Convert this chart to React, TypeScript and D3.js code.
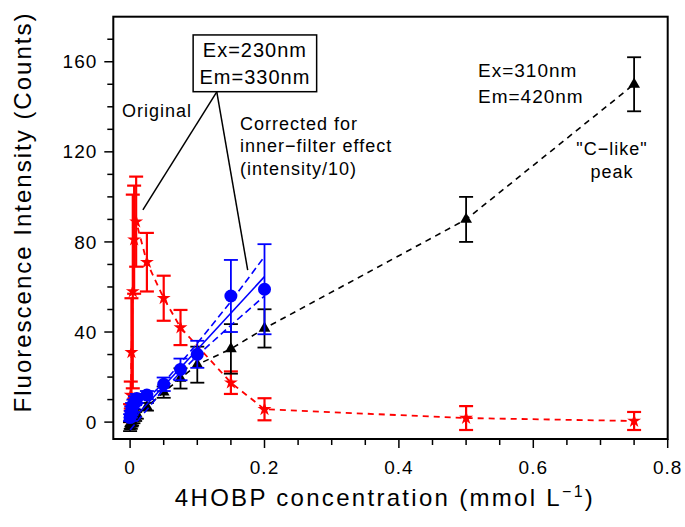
import React from 'react';
import * as d3 from 'd3';

// Original emission (red stars)
const redX = [0, 0.001, 0.002, 0.004, 0.006, 0.009, 0.025, 0.05, 0.075, 0.15, 0.2, 0.5, 0.75];
const redY = [4, 12, 31, 58, 81, 89, 71, 55, 42, 17.5, 5.7, 1.8, 0.5];
const redErr = [4, 6, 24, 43, 24, 20, 13, 10, 7.8, 5, 4.9, 5.3, 4];

// Ex=310 / Em=420, "C-like" peak (black triangles)
const blackX = [0, 0.001, 0.002, 0.003, 0.005, 0.0075, 0.01, 0.025, 0.05, 0.075, 0.1, 0.15, 0.2, 0.5, 0.75];
const blackY = [-2, -1, 0, 0.5, 1.5, 2.5, 3.5, 6.8, 13.3, 19.4, 25.5, 32.5, 41.6, 90, 150];
const blackErr = [2, 2, 2, 2, 2, 2, 2, 1.7, 2.5, 4.5, 8, 11, 8.5, 10, 12];

// Corrected for inner-filter effect (blue circles)
const blueX = [0, 0.001, 0.002, 0.003, 0.005, 0.0075, 0.01, 0.025, 0.05, 0.075, 0.1, 0.15, 0.2];
const blueY = [2, 3.5, 5, 6.5, 8, 9.5, 10.5, 12, 16.8, 23.4, 30.1, 56, 59];
const blueErr = [1.5, 1.5, 2, 2, 2, 2, 2, 1.8, 3, 4.8, 6, 16, 20];

// linear fit and its confidence band
const fitX = [0, 0.2];
const fitY = [-0.2, 64.6];
const bandX = [0, 0.05, 0.1, 0.15, 0.2];
const bandUpper = [3, 17.5, 35, 53.5, 73.5];
const bandLower = [-3.5, 14.5, 29.5, 43, 56];

const xMajor = [0, 0.2, 0.4, 0.6, 0.8];
const xMinor = [0.05, 0.1, 0.15, 0.25, 0.3, 0.35, 0.45, 0.5, 0.55, 0.65, 0.7, 0.75];
const yMajor = [0, 40, 80, 120, 160];
const yMinor = [10, 20, 30, 50, 60, 70, 90, 100, 110, 130, 140, 150, 170];

const FONT = '"Liberation Sans", Arial, Helvetica, sans-serif';

const App = () => {
	const width = 685;
	const height = 527;
	const plot = { left: 113.3, right: 667.7, top: 16.7, bottom: 439 };

	const xScale = d3.scaleLinear().domain([-0.025, 0.8]).range([plot.left, plot.right]);
	const yScale = d3.scaleLinear().domain([-7.5, 180]).range([plot.bottom, plot.top]);

	const line = d3
		.line<[number, number]>()
		.x((d) => xScale(d[0]))
		.y((d) => yScale(d[1]));

	const zip = (xs: number[], ys: number[]) => xs.map((x, i) => [x, ys[i]] as [number, number]);

	const star = d3.symbol(d3.symbolStar, 60)();
	const tri = d3.symbol(d3.symbolTriangle, 60)();

	const errorBars = (xs: number[], ys: number[], es: number[], color: string, key: string, sw = 1.8) =>
		xs.map((x, i) => {
			const cx = xScale(x);
			const y1 = yScale(ys[i] + es[i]);
			const y2 = yScale(ys[i] - es[i]);
			return (
				<g key={key + i} stroke={color} strokeWidth={sw}>
					<line x1={cx} x2={cx} y1={y1} y2={y2} />
					<line x1={cx - 7} x2={cx + 7} y1={y1} y2={y1} />
					<line x1={cx - 7} x2={cx + 7} y1={y2} y2={y2} />
				</g>
			);
		});

	const textStyle = { fontFamily: FONT, letterSpacing: '1px' };

	// annotation anchors (data units)
	const boxTip = [0.129, 146.6];
	const origTip = [0.019, 94.2];
	const corrTip = [0.175, 67.5];

	return (
		<svg width={width} height={height} style={{ position: 'absolute', left: 0, top: 0, background: '#fff' }}>
			{/* --- RED: original --- */}
			<path d={line(zip(redX, redY)) || ''} fill='none' stroke='#ff0000' strokeWidth={1.8} strokeDasharray='6,5' />
			{errorBars(redX, redY, redErr, '#ff0000', 'r', 2.2)}
			{redX.map((x, i) => (
				<path key={'rs' + i} d={star || ''} transform={`translate(${xScale(x)},${yScale(redY[i])})`} fill='#ff0000' />
			))}

			{/* --- BLACK: C-like peak --- */}
			<path d={line(zip(blackX, blackY)) || ''} fill='none' stroke='#000' strokeWidth={1.6} strokeDasharray='6,5' />
			{errorBars(blackX, blackY, blackErr, '#000', 'b')}
			{blackX.map((x, i) => (
				<path key={'bt' + i} d={tri || ''} transform={`translate(${xScale(x)},${yScale(blackY[i])})`} fill='#000' />
			))}

			{/* --- BLUE: corrected --- */}
			<path d={line(zip(bandX, bandUpper)) || ''} fill='none' stroke='#0000ff' strokeWidth={1.6} strokeDasharray='7,4' />
			<path d={line(zip(bandX, bandLower)) || ''} fill='none' stroke='#0000ff' strokeWidth={1.6} strokeDasharray='7,4' />
			<path d={line(zip(fitX, fitY)) || ''} fill='none' stroke='#0000ff' strokeWidth={1.6} />
			{errorBars(blueX, blueY, blueErr, '#0000ff', 'c')}
			{blueX.map((x, i) => (
				<circle key={'bc' + i} cx={xScale(x)} cy={yScale(blueY[i])} r={6.5} fill='#0000ff' />
			))}

			{/* --- FRAME & AXES --- */}
			<rect
				x={plot.left}
				y={plot.top}
				width={plot.right - plot.left}
				height={plot.bottom - plot.top}
				fill='none'
				stroke='#000'
				strokeWidth={2}
			/>
			{yMajor.map((v) => (
				<g key={'ym' + v}>
					<line x1={plot.left - 9} x2={plot.left} y1={yScale(v)} y2={yScale(v)} stroke='#000' strokeWidth={1.5} />
					<text x={plot.left - 16} y={yScale(v)} dy='0.35em' textAnchor='end' fontSize={19} style={textStyle}>
						{v}
					</text>
				</g>
			))}
			{yMinor.map((v) => (
				<line key={'yn' + v} x1={plot.left - 6} x2={plot.left} y1={yScale(v)} y2={yScale(v)} stroke='#000' strokeWidth={1.5} />
			))}
			{xMajor.map((v) => (
				<g key={'xm' + v}>
					<line x1={xScale(v)} x2={xScale(v)} y1={plot.bottom} y2={plot.bottom + 9} stroke='#000' strokeWidth={1.5} />
					<text x={xScale(v)} y={474} textAnchor='middle' fontSize={19} style={textStyle}>
						{v}
					</text>
				</g>
			))}
			{xMinor.map((v) => (
				<line key={'xn' + v} x1={xScale(v)} x2={xScale(v)} y1={plot.bottom} y2={plot.bottom + 6} stroke='#000' strokeWidth={1.5} />
			))}

			{/* axis titles */}
			<text x={385} y={506} textAnchor='middle' fontSize={24} style={{ fontFamily: FONT, letterSpacing: '2.3px' }}>
				4HOBP concentration (mmol L
				<tspan fontSize={16} dy={-9}>−1</tspan>
				<tspan dy={9}>)</tspan>
			</text>
			<text
				transform='translate(31,212) rotate(-90)'
				textAnchor='middle'
				fontSize={24}
				style={{ fontFamily: FONT, letterSpacing: '2px' }}
			>
				Fluorescence Intensity (Counts)
			</text>

			{/* --- ANNOTATIONS --- */}
			<rect
				x={xScale(0.0938)}
				y={yScale(171.9)}
				width={xScale(0.2776) - xScale(0.0938)}
				height={yScale(146.7) - yScale(171.9)}
				fill='#fff'
				stroke='#000'
				strokeWidth={1.5}
			/>
			<text x={xScale(0.1857)} y={57} textAnchor='middle' fontSize={20} style={textStyle}>
				Ex=230nm
			</text>
			<text x={xScale(0.1857)} y={84} textAnchor='middle' fontSize={20} style={textStyle}>
				Em=330nm
			</text>
			<line x1={xScale(boxTip[0])} y1={yScale(boxTip[1])} x2={xScale(origTip[0])} y2={yScale(origTip[1])} stroke='#000' strokeWidth={1.5} />
			<line x1={xScale(boxTip[0])} y1={yScale(boxTip[1])} x2={xScale(corrTip[0])} y2={yScale(corrTip[1])} stroke='#000' strokeWidth={1.5} />

			<text x={122} y={117} fontSize={18} style={textStyle}>
				Original
			</text>
			<text x={240} y={130} fontSize={18} style={textStyle}>
				Corrected for
			</text>
			<text x={240} y={152} fontSize={18} style={textStyle}>
				inner−filter effect
			</text>
			<text x={240} y={175} fontSize={18} style={textStyle}>
				(intensity/10)
			</text>

			<text x={478} y={77} fontSize={19} style={textStyle}>
				Ex=310nm
			</text>
			<text x={478} y={103} fontSize={19} style={textStyle}>
				Em=420nm
			</text>
			<text x={612} y={155} textAnchor='middle' fontSize={18} style={textStyle}>
				"C−like"
			</text>
			<text x={612} y={178} textAnchor='middle' fontSize={18} style={textStyle}>
				peak
			</text>
		</svg>
	);
};

export default App;
